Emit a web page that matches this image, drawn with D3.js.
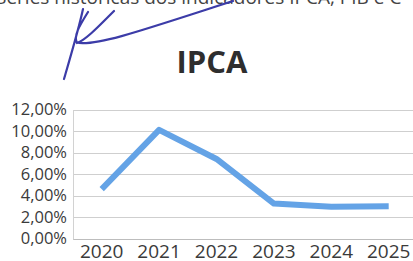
<!DOCTYPE html>
<html><head><meta charset="utf-8">
<script src="https://cdn.jsdelivr.net/npm/d3@7"></script>
<style>html,body{margin:0;padding:0;background:#fff;overflow:hidden}</style>
</head><body>
<script>
const categories = ["2020","2021","2022","2023","2024","2025"];
const ipca = [4.6, 10.1, 7.4, 3.25, 2.95, 3.0];
const yTicks = [0,2,4,6,8,10,12];
const title = "IPCA";
const headerText = "Séries históricas dos indicadores IPCA, PIB e C";

const W = 413, H = 261;
const svg = d3.select("body").append("svg").attr("width", W).attr("height", H);

const left = 73, bandW = 57.4;
const x = d3.scaleBand().domain(categories).range([left, left + bandW*categories.length]);
const y = d3.scaleLinear().domain([0,12]).range([238.5, 109.5]);

// header text (cut off at top in the scan)
svg.append("text").attr("x", -4).attr("y", 4).attr("font-family","Open Sans")
  .attr("font-size", 19).attr("fill", "#444").text(headerText);

// gridlines
svg.append("g").selectAll("line").data(yTicks).join("line")
  .attr("x1", left).attr("x2", x.range()[1])
  .attr("y1", d => Math.round(y(d))+0.5).attr("y2", d => Math.round(y(d))+0.5)
  .attr("stroke", d => d===0 ? "#bdbdbd" : "#cfcfcf").attr("stroke-width", 1);
svg.append("line").attr("x1", left+0.5).attr("x2", left+0.5)
  .attr("y1", Math.round(y(12))+0.5).attr("y2", Math.round(y(0))+0.5)
  .attr("stroke","#d2d2d2");

// y axis labels
const yAxis = d3.axisLeft(y).tickValues(yTicks).tickSize(0).tickPadding(0)
  .tickFormat(d => d3.format(".2f")(d).replace(".", ",") + "%");
const ga = svg.append("g").attr("transform", `translate(${left-6},0)`).call(yAxis);
ga.select(".domain").remove();
ga.selectAll("text").attr("font-family","Open Sans").attr("font-size", 16.5).attr("fill","#3a3a3a");

// x axis labels
const xAxis = d3.axisBottom(x).tickSize(0).tickPadding(0);
const gx = svg.append("g").attr("transform", `translate(0,257.5)`).call(xAxis);
gx.select(".domain").remove();
gx.selectAll("text").attr("font-family","Open Sans").attr("font-size", 19).attr("fill","#3a3a3a")
  .attr("dy", null).attr("y", 0);

// line
const line = d3.line().x((d,i) => x(categories[i]) + x.bandwidth()/2).y(d => y(d));
svg.append("path").datum(ipca).attr("d", line).attr("fill","none")
  .attr("stroke","#64a3e6").attr("stroke-width", 6).attr("stroke-linejoin","round");

// title
svg.append("text").attr("x", 212).attr("y", 73).attr("text-anchor","middle")
  .attr("font-family","Open Sans").attr("font-weight","bold").attr("font-size", 31)
  .attr("fill","#2e2e2e").text(title);

// signature (decorative scan artifact)
svg.append("path")
  .attr("d", "M83,9 C79,28 71,55 64,79 M88,12 C80,25 73,36 77,43 C86,40 100,25 114,11 M79,43 C100,45 140,31 233,1")
  .attr("fill","none").attr("stroke","#3c3ca8").attr("stroke-width",2.2).attr("stroke-linecap","round");
</script>
</body></html>
